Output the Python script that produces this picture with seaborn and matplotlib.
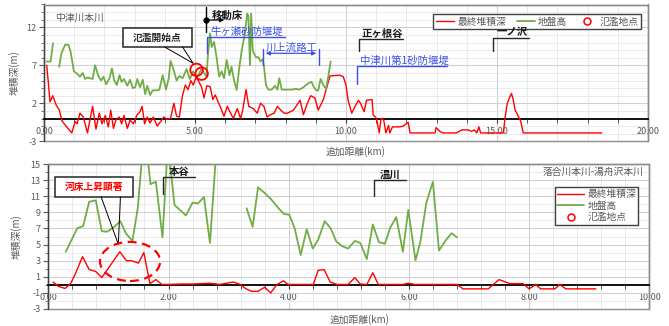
import numpy as np
import pandas as pd
import matplotlib
matplotlib.use("Agg")
import matplotlib.pyplot as plt
from matplotlib.ticker import MultipleLocator, FormatStrFormatter
from matplotlib.patches import Rectangle, Ellipse
from matplotlib.lines import Line2D
import seaborn as sns

sns.set_style("white")
plt.rcParams["font.family"] = ["Noto Sans CJK JP", "DejaVu Sans"]
plt.rcParams["axes.unicode_minus"] = False

# ---- 中津川本川 ----
top_depth_km = [0.09, 0.20, 0.29, 0.40, 0.51, 0.59, 0.73, 0.92, 1.03, 1.10, 1.19, 1.30, 1.44, 1.52,
                1.61, 1.72, 1.83, 1.92, 2.03, 2.13, 2.21, 2.30, 2.38, 2.49, 2.57, 2.65, 2.76, 2.85,
                2.96, 3.07, 3.18, 3.25, 3.33, 3.42, 3.51, 3.62, 3.75, 3.86, 3.97, 4.06, 4.19, 4.30,
                4.39, 4.48, 4.59, 4.68, 4.77, 4.86, 4.94, 5.03, 5.11, 5.22, 5.30, 5.39, 5.50, 5.59,
                5.67, 5.83, 5.96, 6.07, 6.18, 6.27, 6.40, 6.51, 6.58, 6.69, 6.78, 6.93, 7.06, 7.17,
                7.28, 7.39, 7.50, 7.62, 7.73, 7.84, 7.95, 8.06, 8.26, 8.48, 8.59, 8.70, 8.83, 8.97,
                9.08, 9.25, 9.47, 9.80, 9.91, 10.00, 10.07, 10.19, 10.30, 10.41, 10.48, 10.60, 10.68,
                10.86, 10.90, 11.01, 11.10, 11.16, 11.25, 11.32, 11.41, 11.45, 11.54, 11.78, 11.89,
                12.06, 12.12, 12.95, 12.98, 13.11, 13.22, 13.66, 13.83, 14.05, 14.16, 14.25, 14.33,
                14.40, 14.46, 15.21, 15.27, 15.34, 15.41, 15.48, 15.54, 15.60, 15.68, 15.78, 15.87,
                18.47]
top_depth = [7.0, 2.2, 3.0, 1.8, 1.1, -0.3, -1.0, -1.9, -0.4, -0.7, 0.7, 0.2, -1.9, -0.2,
             1.6, -1.4, 0.7, -0.7, 0.4, -1.1, 1.1, -1.3, -0.2, 0.2, -0.7, 0.4, -1.3, -0.2,
             -0.7, 0.4, 0.9, 1.6, -0.7, 0.2, -0.6, 0.2, -1.0, -0.4, 0.2, -0.1, 0.0, 2.0,
             0.3, 0.2, 3.1, 4.4, 3.8, 5.0, 4.4, 5.4, 5.0, 4.1, 2.7, 4.3, 4.2, 2.5,
             3.1, 1.6, 0.3, 1.6, 0.7, 0.0, 1.3, 0.0, 1.1, 3.8, 1.6, 1.3, 0.7, 2.0,
             1.6, 0.2, 0.5, 0.7, 1.6, 1.1, 0.7, 0.7, 1.1, 2.4, 0.5, 1.8, 3.0, 2.7,
             1.1, 2.5, 5.6, 5.7, 5.5, 4.4, 2.4, 0.7, 1.6, 2.4, 2.0, 0.9, 2.4,
             2.5, 0.5, 0.0, -1.9, 0.0, -0.2, -1.9, -0.9, -1.9, -1.1, -1.1, -1.0,
             -0.5, -1.9, -1.9, -1.2, -1.7, -1.9, -1.9, -1.5, -1.5, -1.7, -1.5, -1.9,
             -1.1, -1.9, -1.9, 0.2, 2.0, 2.7, 3.3, 2.4, 1.1, 0.5, -0.3, -1.9,
             -1.9]

top_ground_km = [0.09, 0.22, 0.30, 0.40, 0.50, 0.58, 0.70, 0.81, 0.88, 0.99, 1.10, 1.19, 1.28, 1.36,
                 1.44, 1.52, 1.61, 1.69, 1.80, 1.89, 1.97, 2.06, 2.17, 2.25, 2.32, 2.41, 2.50, 2.57,
                 2.65, 2.76, 2.85, 2.94, 3.02, 3.09, 3.18, 3.27, 3.35, 3.42, 3.51, 3.60, 3.71, 3.82,
                 3.93, 4.04, 4.13, 4.19, 4.30, 4.39, 4.48, 4.59, 4.72, 4.83, 4.94, 5.03, 5.11, 5.22,
                 5.30, 5.38, 5.44, 5.50, 5.55, 5.63, 5.72, 5.80, 5.88, 5.96, 6.05, 6.14, 6.21, 6.29,
                 6.38, 6.47, 6.55, 6.62, 6.69, 6.73, 6.77, 6.82, 6.86, 6.91, 6.95, 7.02, 7.10, 7.17,
                 7.24, 7.28, 7.35, 7.43, 7.54, 7.65, 7.73, 7.79, 7.87, 8.03, 8.20, 8.34, 8.45, 8.59,
                 8.67, 8.78, 8.86, 8.94, 9.01, 9.08, 9.16, 9.25, 9.34, 9.42, 9.49]
top_ground = [7.5, 7.5, 9.9, np.nan, 6.8, 8.6, 9.7, 9.7, 8.8, 6.2, 5.9, 5.5, 6.0, 5.2,
              5.4, 5.3, 5.2, 7.0, 5.6, 5.0, 5.5, 4.5, 5.3, 6.6, 5.1, 4.4, 5.7, 4.8,
              5.2, 4.3, 5.1, 4.0, 4.1, 5.2, 4.1, 5.1, 3.2, 4.3, 3.1, 3.7, 3.7, 3.8,
              5.7, 3.8, 5.3, 7.6, 6.3, 5.0, 5.6, 5.3, 6.5, 5.2, 6.2, 5.6, 5.7, 6.6,
              6.0, 5.5, 9.0, 11.2, 9.4, 10.1, 7.9, 5.5, 6.2, 5.3, 7.7, 5.7, 6.8, 5.1,
              3.75, 6.8, 9.0, 10.5, 12.5, 13.8, 13.4, 7.0, 13.8, 9.0, 8.6, 8.05, 8.05, 7.5,
              7.8, 7.0, 4.4, 3.8, 3.8, 4.3, 3.8, 5.3, 3.8, 3.8, 3.8, 3.9, 3.8, 4.1,
              4.4, 4.7, 4.8, 4.1, 3.7, 3.7, 5.2, 4.4, 3.9, 5.7, 7.5]

top_flood_km = [5.05, 5.22]
top_flood = [6.4, 5.9]

# ---- 落合川本川-湯舟沢本川 ----
bot_depth_km = [0.08, 0.17, 0.28, 0.37, 0.44, 0.57, 0.68, 0.79, 0.89, 1.19, 1.30, 1.38, 1.50, 1.59,
                1.69, 1.79, 1.89, 2.00, 2.20, 2.40, 2.69, 2.85, 3.08, 3.19, 3.29, 3.38, 3.49, 3.60,
                3.70, 3.80, 3.91, 3.99, 4.41, 4.49, 4.59, 4.69, 4.80, 4.99, 5.10, 5.19, 5.30, 5.40,
                5.49, 5.90, 5.99, 6.10, 6.80, 6.90, 7.32, 7.50, 7.68, 7.90, 8.00, 8.11, 8.19, 8.43,
                8.51, 8.61, 9.11]
bot_depth = [0.35, -0.2, -0.45, 0.15, 1.2, 3.5, 1.9, 1.65, 0.9, 4.1, 3.0, 3.0, 2.7, 4.0,
             0.15, 0.65, 0.05, 0.05, 0.1, 0.1, 0.2, 0.05, 0.35, 0.05, -0.5, -0.8, -0.8, -0.3,
             -1.0, 0.0, 0.5, 0.05, 0.05, 1.8, 1.9, 0.35, 0.05, 0.05, 0.9, 0.1, 0.05, 1.5,
             0.05, 0.05, 0.2, 0.05, 0.05, -0.5, -0.5, 0.65, 0.15, 0.15, -0.5, 0.05, -0.5, -0.5,
             0.05, -0.5, -0.5]

bot_ground_km = [0.29, 0.48, 0.58, 0.68, 0.79, 0.89, 0.98, 1.08, 1.20, 1.29, 1.40, 1.49, 1.60, 1.70,
                 1.79, 1.90, 1.99, 2.10, 2.19, 2.29, 2.40, 2.49, 2.59, 2.69, 2.80, 3.00, 3.30, 3.40,
                 3.49, 3.60, 3.71, 3.82, 3.92, 4.01, 4.10, 4.20, 4.30, 4.40, 4.49, 4.60, 4.70, 4.79,
                 4.89, 4.99, 5.10, 5.19, 5.30, 5.40, 5.50, 5.60, 5.69, 5.79, 5.90, 5.99, 6.11, 6.19,
                 6.29, 6.40, 6.50, 6.61, 6.71, 6.80]
bot_ground = [4.1, 7.0, 7.3, 10.3, 10.5, 6.65, 6.6, 7.1, 7.9, 6.4, 5.45, 9.6, 19.5, 12.5,
              12.8, 5.9, 17.6, 9.9, 9.3, 8.6, 10.2, 10.1, 10.9, 5.2, 17.2, np.nan, 9.5, 7.2,
              12.1, 11.4, 10.6, 9.6, 8.8, 8.7, 7.0, 3.7, 6.9, 4.5, 5.6, 7.9, 7.0, 5.4,
              4.8, 4.5, 5.45, 5.2, 3.2, 7.5, 5.3, 5.1, 7.1, 8.4, 4.1, 9.3, 3.05, 5.3,
              10.2, 12.8, 4.25, 5.5, 6.4, 5.9]

bot_flood_km = []
bot_flood = []

series_labels = ["最終堆積深", "地盤高", "氾濫地点"]

RED = "#ff0000"
GREEN = "#70ad47"
BLUE = "#3a4fe8"
GRAY_TXT = "#595959"


def segments(km, val):
    """Long-form frame with a segment id so gaps (NaN) stay open."""
    df = pd.DataFrame({"km": km, "val": val})
    df["seg"] = df["val"].isna().cumsum()
    return df.dropna()


def style_axes(ax, xmax, xmajor, xminor, yticks):
    ax.set_xlim(0, xmax)
    ax.set_ylim(-3, 15)
    ax.set_xticks(np.arange(0, xmax + 0.001, xmajor))
    ax.xaxis.set_minor_locator(MultipleLocator(xminor))
    ax.xaxis.set_major_formatter(FormatStrFormatter("%.2f"))
    ax.set_yticks(yticks)
    ax.yaxis.set_minor_locator(MultipleLocator(1))
    ax.grid(which="major", color="#d0d0d0", lw=0.8, zorder=0)
    ax.grid(which="minor", color="#e6e6e6", lw=0.6, zorder=0)
    ax.set_axisbelow(True)
    # x axis crosses at zero
    ax.spines["bottom"].set_position(("data", 0))
    ax.spines["bottom"].set_color("black")
    ax.spines["bottom"].set_linewidth(1.3)
    for s in ("top", "right"):
        ax.spines[s].set_color("#8c8c8c")
        ax.spines[s].set_linewidth(1.0)
    ax.spines["left"].set_color("#404040")
    ax.spines["left"].set_linewidth(1.0)
    ax.add_patch(Rectangle((0, 0), 1, 1, transform=ax.transAxes, fill=False,
                           ec="#8c8c8c", lw=1.0, clip_on=False, zorder=2.4))
    ax.tick_params(axis="x", which="both", bottom=True, direction="out", length=3,
                   color="#404040", labelsize=6.5, labelcolor=GRAY_TXT, pad=3)
    ax.tick_params(axis="y", which="major", left=True, direction="out", length=3.5,
                   color="#595959", labelsize=6.5, labelcolor=GRAY_TXT, pad=2)
    ax.tick_params(axis="y", which="minor", left=True, direction="out", length=2.5,
                   color="#595959")
    ax.set_xlabel("")
    ax.set_ylabel("堆積深(m)", fontsize=7, color=GRAY_TXT)


def draw_series(ax, dkm, dval, gkm, gval, fkm, fval):
    sns.lineplot(data=segments(dkm, dval), x="km", y="val", units="seg", estimator=None,
                 sort=False, color=RED, lw=1.0, ax=ax, zorder=3)
    sns.lineplot(data=segments(gkm, gval), x="km", y="val", units="seg", estimator=None,
                 sort=False, color=GREEN, lw=1.3, ax=ax, zorder=3)
    if len(fkm):
        sns.scatterplot(x=fkm, y=fval, marker="o", s=80, ax=ax, zorder=4)
        coll = ax.collections[-1]
        coll.set_facecolor("none")
        coll.set_edgecolor(RED)
        coll.set_linewidth(1.3)


def legend_handles():
    return [Line2D([], [], color=RED, lw=1.0),
            Line2D([], [], color=GREEN, lw=1.3),
            Line2D([], [], ls="none", marker="o", ms=5, mfc="none", mec=RED, mew=1.1)]


fig = plt.figure(figsize=(6.69, 3.26), dpi=100)
fig.patch.set_facecolor("white")

ax1 = fig.add_axes([44 / 669, 1 - 141.3 / 326, 604 / 669, 136.8 / 326])
ax2 = fig.add_axes([48.3 / 669, 1 - 309 / 326, 601 / 669, 145 / 326])

# ---------- upper panel ----------
draw_series(ax1, top_depth_km, top_depth, top_ground_km, top_ground, top_flood_km, top_flood)
style_axes(ax1, 20, 5, 1, [-3, 2, 7, 12])
ax1.yaxis.set_label_coords(-0.04, 0.5)

ax1.text(0.018, 0.90, "中津川本川", transform=ax1.transAxes, fontsize=7, color=GRAY_TXT,
         va="center", ha="left")
leg1 = ax1.legend(legend_handles(), series_labels, loc="upper right",
                  bbox_to_anchor=(0.996, 0.963), ncol=3, fontsize=7, frameon=True,
                  fancybox=False, edgecolor="#404040", framealpha=1, handlelength=1.9,
                  handletextpad=0.3, columnspacing=1.1, borderpad=0.25, labelcolor=GRAY_TXT)
leg1.get_frame().set_linewidth(1.0)

# 氾濫開始点 callout
ax1.add_patch(Rectangle((2.62, 9.4), 2.28, 2.5, fc="white", ec="#262626", lw=1.1, zorder=5))
ax1.text(3.76, 10.65, "氾濫開始点", ha="center", va="center", fontsize=7, color="#262626",
         fontweight="bold", zorder=6)
ax1.plot([4.00, 4.94, 4.59], [9.4, 7.26, 9.4], color="black", lw=0.7, zorder=5)

# 移動床
ax1.plot([5.36, 5.36], [14.7, 11.4], color="black", lw=1.0, zorder=5, clip_on=False)
ax1.plot([5.36], [12.96], "o", color="black", ms=3.5, zorder=6)
ax1.annotate("", xy=(6.06, 12.96), xytext=(5.36, 12.96),
             arrowprops=dict(arrowstyle="-|>", color="black", lw=0.9, mutation_scale=6), zorder=6)
ax1.text(5.56, 13.55, "移動床", ha="left", va="center", fontsize=7.5, color="#1a1a1a",
         fontweight="bold", zorder=6)

# 牛ヶ瀬砂防堰堤
ax1.plot([5.40, 5.40, 7.98], [8.6, 10.76, 10.76], color=BLUE, lw=1.0, zorder=5)
ax1.text(5.50, 10.8, "牛ヶ瀬砂防堰堤", ha="left", va="bottom", fontsize=7.5, color=BLUE, zorder=6)

# 川上流路工
ax1.plot([7.25, 7.25], [9.14, 7.04], color=BLUE, lw=1.0, zorder=5)
ax1.plot([9.11, 9.11], [9.14, 7.04], color=BLUE, lw=1.0, zorder=5)
ax1.annotate("", xy=(7.25, 8.58), xytext=(9.11, 8.58),
             arrowprops=dict(arrowstyle="<|-|>", color=BLUE, lw=0.9, mutation_scale=6), zorder=6)
ax1.text(8.21, 8.65, "川上流路工", ha="center", va="bottom", fontsize=7.5, color=BLUE, zorder=6)

# 正ヶ根谷
ax1.plot([10.43, 10.43, 11.89], [8.9, 10.46, 10.46], color="#262626", lw=1.0, zorder=5)
ax1.text(11.19, 10.5, "正ヶ根谷", ha="center", va="bottom", fontsize=7.5, color="#1a1a1a",
         fontweight="bold", zorder=6)

# 中津川第1砂防堰堤
ax1.plot([10.36, 10.36, 13.34], [4.5, 6.9, 6.9], color=BLUE, lw=1.0, zorder=5)
ax1.text(10.46, 6.95, "中津川第1砂防堰堤", ha="left", va="bottom", fontsize=7.5, color=BLUE, zorder=6)

# 一ノ沢
ax1.plot([14.87, 14.87, 16.06], [8.9, 10.6, 10.6], color="#262626", lw=1.0, zorder=5)
ax1.text(15.50, 10.65, "一ノ沢", ha="center", va="bottom", fontsize=7.5, color="#1a1a1a",
         fontweight="bold", zorder=6)

# ---------- lower panel ----------
draw_series(ax2, bot_depth_km, bot_depth, bot_ground_km, bot_ground, bot_flood_km, bot_flood)
style_axes(ax2, 10, 2, 0.4, list(range(-3, 16, 2)))
ax2.yaxis.set_label_coords(-0.044, 0.5)

ax2.text(0.99, 0.945, "落合川本川-湯舟沢本川", transform=ax2.transAxes, fontsize=7,
         color=GRAY_TXT, va="center", ha="right")
leg2 = ax2.legend(legend_handles(), series_labels, loc="upper right",
                  bbox_to_anchor=(0.99, 0.876), ncol=1, fontsize=7, frameon=True,
                  fancybox=False, edgecolor="#404040", framealpha=1, handlelength=2.8,
                  handletextpad=0.3, borderpad=0.25, labelspacing=0.15, labelcolor=GRAY_TXT)
leg2.get_frame().set_linewidth(1.0)

# 本谷
ax2.plot([1.91, 1.91, 2.44], [11.3, 13.4, 13.4], color="#262626", lw=1.0, zorder=5)
ax2.text(2.17, 13.45, "本谷", ha="center", va="bottom", fontsize=7.5, color="#1a1a1a",
         fontweight="bold", zorder=6)

# 温川
ax2.plot([5.42, 5.42, 5.95], [11.0, 13.0, 13.0], color="#262626", lw=1.0, zorder=5)
ax2.text(5.69, 13.05, "温川", ha="center", va="bottom", fontsize=7.5, color="#1a1a1a",
         fontweight="bold", zorder=6)

# 河床上昇顕著 callout
ax2.add_patch(Rectangle((0.11, 10.9), 1.30, 2.5, fc="white", ec="#262626", lw=1.1, zorder=5))
ax2.text(0.76, 12.15, "河床上昇顕著", ha="center", va="center", fontsize=7, color=RED,
         fontweight="bold", zorder=6)
ax2.plot([0.88, 1.165, 1.20], [10.9, 5.04, 10.9], color="black", lw=0.7, zorder=5)
ax2.add_patch(Ellipse((1.36, 2.9), 1.0, 4.85, fill=False, ec=RED, lw=1.6,
                      ls=(0, (4, 2.5)), zorder=5))

fig.text(356 / 669, 1 - 152 / 326, "追加距離(km)", ha="center", va="center",
         fontsize=7, color=GRAY_TXT)
fig.text(360 / 669, 1 - 320 / 326, "追加距離(km)", ha="center", va="center",
         fontsize=7, color=GRAY_TXT)

fig.savefig("out.png", dpi=100, facecolor="white")
